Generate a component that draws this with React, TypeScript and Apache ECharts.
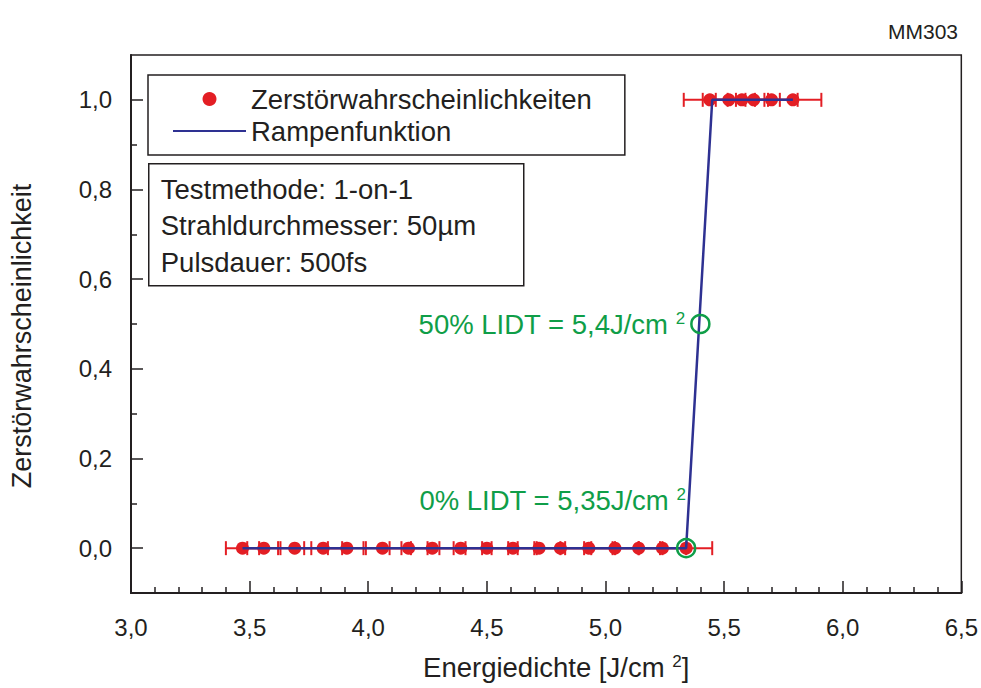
import React, { useEffect, useRef } from "react";
import * as echarts from "echarts";

const energy = [
  3.47, 3.56, 3.69, 3.81, 3.91, 4.06, 4.17, 4.27, 4.39, 4.5, 4.61, 4.72, 4.81,
  4.93, 5.04, 5.14, 5.24, 5.34, 5.44, 5.52, 5.575, 5.625, 5.7, 5.79,
];
const probability = [
  0, 0, 0, 0, 0, 0, 0, 0, 0, 0, 0, 0, 0, 0, 0, 0, 0, 0, 1, 1, 1, 1, 1, 1,
];
const energyError = [
  0.07, 0.07, 0.07, 0.08, 0.08, 0.08, 0.08, 0.09, 0.09, 0.09, 0.09, 0.09, 0.1,
  0.1, 0.1, 0.1, 0.1, 0.11, 0.11, 0.11, 0.11, 0.11, 0.11, 0.12,
];
const rampX = [3.47, 5.34, 5.45, 5.79];
const rampY = [0, 0, 1, 1];
const lidtX = [5.34, 5.4];
const lidtY = [0, 0.5];
const lidtText = ["0% LIDT = 5,35J/cm", "50% LIDT = 5,4J/cm"];
const yTickValues = [0, 0.2, 0.4, 0.6, 0.8, 1.0];
const yMinorTickValues = [0.1, 0.3, 0.5, 0.7, 0.9];
const infoLines = ["Testmethode: 1-on-1", "Strahldurchmesser: 50µm", "Pulsdauer: 500fs"];

const FONT = "Liberation Sans, Arial, Helvetica, sans-serif";
const RED = "#e31e24";
const BLUE = "#2e3192";
const GREEN = "#0f9e48";
const INK = "#231f20";

export default function App() {
  const ref = useRef<HTMLDivElement>(null);
  useEffect(() => {
    if (!ref.current) return;
    const chart = echarts.init(ref.current, undefined, { renderer: "svg" });
    const fmt = (v: number) => v.toFixed(1).replace(".", ",");
    const points = energy.map((x, i) => [x, probability[i]]);
    const errs = energy.map((x, i) => [x, probability[i], energyError[i]]);
    const ramp = rampX.map((x, i) => [x, rampY[i]]);
    const lidt = lidtX.map((x, i) => ({
      value: [x, lidtY[i]],
      label: {
        offset: i === 0 ? [15, -48] : [0, 0],
        formatter: lidtText[i] + " {sup|2}",
      },
    }));
    const option: any = {
      animation: false,
      textStyle: { fontFamily: FONT },
      title: {
        text: "MM303",
        right: 18,
        top: 16,
        textStyle: { fontFamily: FONT, fontSize: 21, fontWeight: "normal", color: INK },
      },
      grid: { left: 131, right: 18, top: 55, bottom: 95, show: true, borderColor: INK, borderWidth: 1.5 },
      legend: {
        data: [
          { name: "Zerstörwahrscheinlichkeiten" },
          { name: "Rampenfunktion", itemStyle: { opacity: 0 } },
        ],
        orient: "vertical",
        left: 148,
        top: 75,
        padding: [10, 33, 10, 24],
        itemWidth: 73,
        itemHeight: 14,
        itemGap: 4,
        borderColor: INK,
        borderWidth: 1.5,
        backgroundColor: "#fff",
        textStyle: { fontFamily: FONT, fontSize: 27.5, color: INK },
      },
      xAxis: {
        type: "value",
        min: 3,
        max: 6.5,
        interval: 0.5,
        name: "Energiedichte [J/cm {sup|2}]",
        nameLocation: "middle",
        nameGap: 60,
        nameTextStyle: {
          fontFamily: FONT,
          fontSize: 27.5,
          color: INK,
          padding: [0, 0, 0, 20],
          rich: { sup: { fontFamily: FONT, fontSize: 17, color: INK, verticalAlign: "top" } },
        },
        axisLine: { onZero: false, lineStyle: { color: INK, width: 2 } },
        axisTick: { inside: true, length: 12, lineStyle: { color: INK, width: 1.5 } },
        minorTick: { show: true, splitNumber: 5, length: 6, lineStyle: { color: INK, width: 1.5 } },
        axisLabel: { fontFamily: FONT, fontSize: 24, color: INK, margin: 22, formatter: fmt },
        splitLine: { show: false },
      },
      yAxis: [
        {
          type: "value",
          min: -0.1,
          max: 1.1,
          name: "Zerstörwahrscheinlichkeit",
          nameLocation: "middle",
          nameGap: 96,
          nameTextStyle: { fontFamily: FONT, fontSize: 27, color: INK, padding: [0, 24, 0, 0] },
          axisLine: { onZero: false, lineStyle: { color: INK, width: 2 } },
          axisTick: { inside: true, length: 12, customValues: yTickValues, lineStyle: { color: INK, width: 1.5 } },
          axisLabel: { fontFamily: FONT, fontSize: 24, color: INK, margin: 19, customValues: yTickValues, formatter: fmt },
          splitLine: { show: false },
        },
        {
          type: "value",
          min: -0.1,
          max: 1.1,
          position: "left",
          axisLine: { show: false, onZero: false },
          axisTick: { inside: true, length: 6, customValues: yMinorTickValues, lineStyle: { color: INK, width: 1.5 } },
          axisLabel: { show: false, customValues: yMinorTickValues },
          splitLine: { show: false },
        },
      ],
      graphic: [
        {
          type: "group",
          left: 148,
          top: 163,
          children: [
            { type: "rect", shape: { x: 0, y: 0, width: 375, height: 122 }, style: { fill: "#fff", stroke: INK, lineWidth: 1.5 } },
            {
              type: "text",
              x: 12,
              y: 7,
              style: { text: infoLines.join("\n"), fontFamily: FONT, fontSize: 27.5, lineHeight: 36.5, fill: INK },
            },
          ],
        },
      ],
      series: [
        {
          type: "custom",
          name: "errors",
          data: errs,
          z: 2,
          renderItem: (params: any, api: any) => {
            const x = api.value(0);
            const y = api.value(1);
            const e = api.value(2);
            const a = api.coord([x - e, y]);
            const b = api.coord([x + e, y]);
            const st = { stroke: RED, lineWidth: 2 };
            const h = 7;
            return {
              type: "group",
              children: [
                { type: "line", shape: { x1: a[0], y1: a[1], x2: b[0], y2: b[1] }, style: st },
                { type: "line", shape: { x1: a[0], y1: a[1] - h, x2: a[0], y2: a[1] + h }, style: st },
                { type: "line", shape: { x1: b[0], y1: b[1] - h, x2: b[0], y2: b[1] + h }, style: st },
              ],
            };
          },
        },
        {
          type: "scatter",
          name: "Zerstörwahrscheinlichkeiten",
          data: points,
          symbol: "circle",
          symbolSize: 13,
          itemStyle: { color: RED, opacity: 1 },
          z: 3,
        },
        {
          type: "line",
          name: "Rampenfunktion",
          data: ramp,
          symbol: "none",
          showSymbol: false,
          lineStyle: { color: BLUE, width: 2.5 },
          itemStyle: { color: BLUE },
          z: 4,
        },
        {
          type: "scatter",
          name: "LIDT",
          data: lidt,
          symbol: "circle",
          symbolSize: 18,
          itemStyle: { color: "transparent", borderColor: GREEN, borderWidth: 2.5, opacity: 1 },
          z: 5,
          label: {
            show: true,
            position: "left",
            distance: 5,
            fontFamily: FONT,
            fontSize: 27.5,
            color: GREEN,
            rich: { sup: { fontFamily: FONT, fontSize: 17, color: GREEN, verticalAlign: "top" } },
          },
        },
      ],
    };
    chart.setOption(option);
    return () => chart.dispose();
  }, []);
  return <div ref={ref} style={{ position: "fixed", left: 0, top: 0, width: 981, height: 688, background: "#fff" }} />;
}
